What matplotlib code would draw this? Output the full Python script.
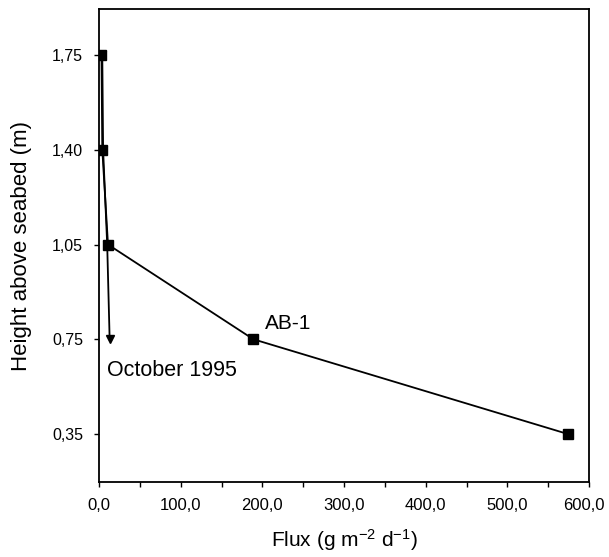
import matplotlib
matplotlib.use('Agg')
import matplotlib.pyplot as plt
import matplotlib.transforms as mtransforms
import numpy as np

plt.rcParams['font.family'] = ['Liberation Sans', 'DejaVu Sans']
plt.rcParams['mathtext.default'] = 'regular'

# Alturas (categorias equiespaciadas en el eje y)
alturas = ['0,35', '0,75', '1,05', '1,40', '1,75']

# Serie AB-1 (cuadrados), de abajo hacia arriba
flujo_ab1 = [574, 189, 11, 4, 3]
# Serie October 1995 (triangulos), de arriba hacia abajo
flujo_oct = [4, 5, 10, 13]
pos_oct = [4, 3, 2, 1]

xticks = [0, 100, 200, 300, 400, 500, 600]
xlabels = ['0,0', '100,0', '200,0', '300,0', '400,0', '500,0', '600,0']

fig = plt.figure(figsize=(6.09, 5.57), dpi=100)
ax = fig.add_axes([0.1626, 0.1346, 0.8046, 0.8492])

pos = np.arange(len(alturas))
ax.plot(flujo_ab1, pos, color='black', lw=1.3, marker='s', ms=6.5, zorder=3)
ax.plot(flujo_oct, pos_oct, color='black', lw=1.3, marker='v', ms=6, zorder=2)

ax.text(203, 1.17, 'AB-1', fontsize=15, va='center', ha='left')
ax.text(10, 0.675, 'October 1995', fontsize=15.5, va='center', ha='left')

ax.set_xlim(0, 600)
ax.set_ylim(-0.507, 4.486)
ax.set_xticks(xticks)
ax.set_xticklabels(xlabels)
ax.set_xticks(np.arange(50, 600, 100), minor=True)
ax.set_yticks(pos)
ax.set_yticklabels(alturas)
ax.tick_params(direction='out', length=3.5, width=1, pad=8)
ax.tick_params(axis='x', labelsize=12)
ax.tick_params(axis='y', labelsize=11.5)
ax.tick_params(which='minor', direction='out', length=3.5, width=1)

# la ultima etiqueta un poco a la izquierda para que no se corte
ultima = ax.get_xticklabels()[-1]
ultima.set_transform(ultima.get_transform() +
                     mtransforms.ScaledTranslation(-4 / 72, 0, fig.dpi_scale_trans))

for s in ax.spines.values():
    s.set_linewidth(1.3)

ax.set_xlabel('Flux (g m$^{-2}$ d$^{-1}$)', fontsize=15, labelpad=10)
ax.set_ylabel('Height above seabed (m)', fontsize=16, labelpad=14)

fig.savefig('out.png', dpi=100)
